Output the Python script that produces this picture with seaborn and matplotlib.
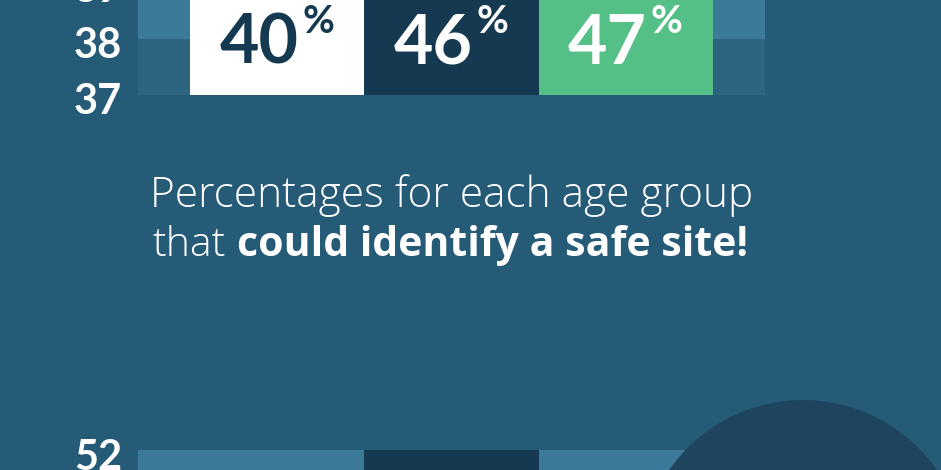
import matplotlib
matplotlib.use("Agg")
import matplotlib.pyplot as plt
from matplotlib.patches import Circle
from matplotlib.transforms import ScaledTranslation
import pandas as pd
import seaborn as sns

# data
groups = ["age group 1", "age group 2", "age group 3"]
top_values = [40, 46, 47]          # % that could identify a safe site
top_ticks = [37, 38, 39]
bottom_values = [50, 52, 50]       # only the middle bar reaches into the crop
bottom_ticks = [52]

BG = "#265b78"
STRIPE_LIGHT = "#3b7a99"
STRIPE_DARK = "#2d6480"
NAVY = "#153950"
GREEN = "#54bf87"
CIRCLE = "#1f455e"
bar_colors = ["white", NAVY, GREEN]
label_colors = [NAVY, "white", "white"]

W, H = 941, 470
PX = 56  # pixels per y unit

sns.set_theme(style="white")
plt.rcParams["font.family"] = ["Lato", "DejaVu Sans"]
CAPTION_FONT = ["Open Sans", "DejaVu Sans"]

fig = plt.figure(figsize=(W / 100, H / 100), dpi=100, facecolor=BG)


def px_axes(left, top, width, height, **kw):
    return fig.add_axes([left / W, 1 - (top + height) / H, width / W, height / H], **kw)


def bar_panel(ax, values, ticks, bands):
    df = pd.DataFrame({"group": groups, "value": values})
    for lo, hi, c in bands:
        ax.axhspan(lo, hi, color=c, lw=0, zorder=0)
    sns.barplot(data=df, x="group", y="value", hue="group", palette=bar_colors,
                width=1, saturation=1, legend=False, ax=ax, zorder=2,
                linewidth=0, edgecolor="none")
    ax.set_xlim(-0.8, 2.8)
    ax.set_ylim(bands[0][0], bands[-1][1])
    ax.set_facecolor("none")
    for s in ax.spines.values():
        s.set_visible(False)
    ax.set_xlabel("")
    ax.set_ylabel("")
    ax.set_xticks([])
    ax.set_yticks(ticks)
    ax.set_yticklabels([str(t) for t in ticks], fontsize=30, fontweight="bold", color="white")
    ax.tick_params(axis="y", length=0, pad=11.5)
    # labels sit a few pixels below the band edges in the original
    for lab in ax.get_yticklabels():
        lab.set_transform(lab.get_transform() + ScaledTranslation(0, -4 / 100, fig.dpi_scale_trans))


# top panel (cut off at the top of the picture)
ax_top = px_axes(138, 95 - 2 * PX, 627, 2 * PX)
bar_panel(ax_top, top_values, top_ticks, [(37, 38, STRIPE_DARK), (38, 39, STRIPE_LIGHT)])
for i, (v, col) in enumerate(zip(top_values, label_colors)):
    ax_top.annotate(f"{v}", xy=(i, 37), xytext=(21, 31), textcoords="offset pixels",
                    ha="right", va="baseline", fontsize=49, fontweight="bold", color=col)
    ax_top.annotate("%", xy=(i, 37), xytext=(25, 62), textcoords="offset pixels",
                    ha="left", va="baseline", fontsize=28, fontweight="bold", color=col)

# bottom panel (only its top edge is visible)
ax_bot = px_axes(138, 450, 627, PX)
bar_panel(ax_bot, bottom_values, bottom_ticks, [(51, 52, STRIPE_LIGHT)])

# overlay: caption text and the dark circle
ov = fig.add_axes([0, 0, 1, 1], zorder=5)
ov.set_xlim(0, W)
ov.set_ylim(H, 0)
ov.axis("off")
ov.patch.set_alpha(0)
ov.add_patch(Circle((803, 563), 163, color=CIRCLE, lw=0))

ov.text(452, 207, "Percentages for each age group", ha="center", va="baseline",
        fontsize=30.5, fontweight="light", color="white", family=CAPTION_FONT)
t1 = ov.text(0, 256, "that", ha="left", va="baseline", fontsize=29.5, fontweight="light",
             color="white", family=CAPTION_FONT)
t2 = ov.text(0, 256, "could identify a safe site!", ha="left", va="baseline",
             fontsize=29.5, fontweight="bold", color="white", family=CAPTION_FONT)
fig.canvas.draw()
r = fig.canvas.get_renderer()
w1 = t1.get_window_extent(r).width
w2 = t2.get_window_extent(r).width
gap = 11
x0 = 450 - (w1 + gap + w2) / 2
t1.set_x(x0)
t2.set_x(x0 + w1 + gap)

fig.savefig("out.png", dpi=100, facecolor=BG)
plt.close(fig)
